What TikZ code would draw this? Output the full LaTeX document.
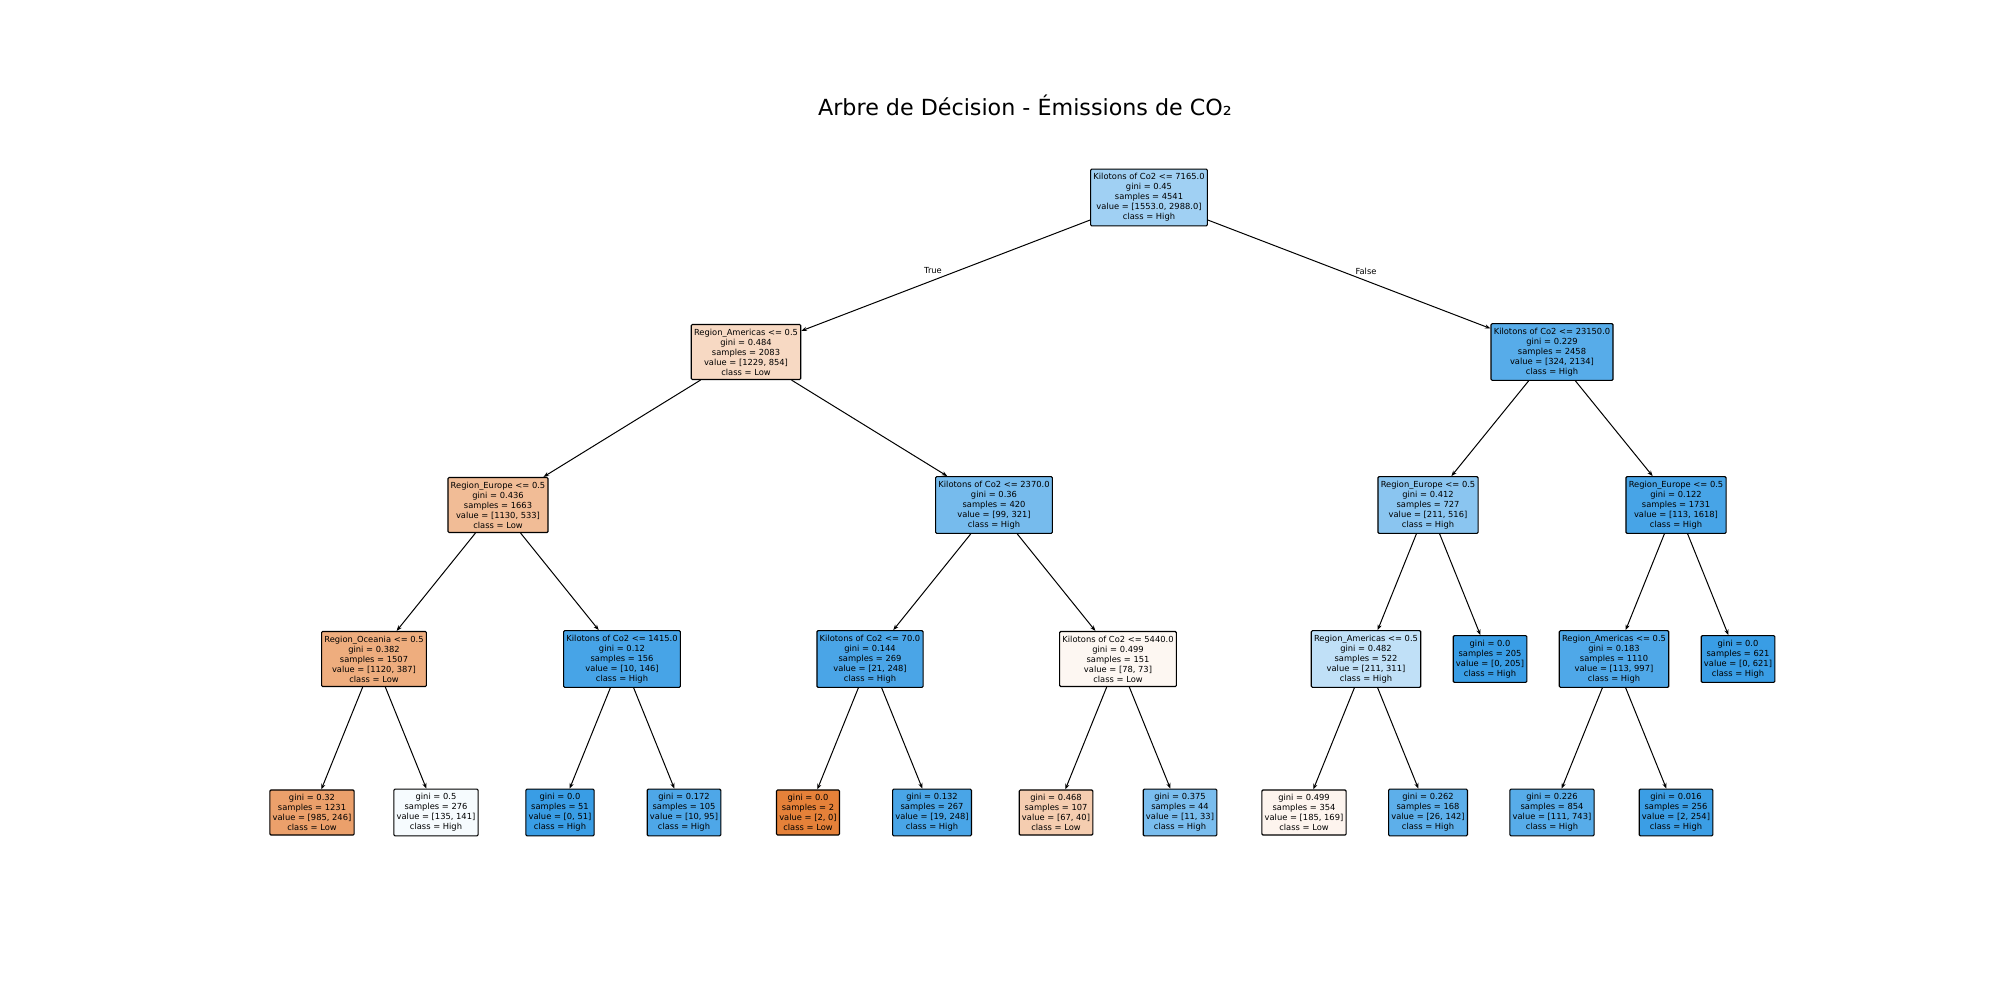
\documentclass[tikz,border=0pt]{standalone}
\usepackage{fontspec}
\setmainfont{DejaVu Sans}
\usetikzlibrary{arrows.meta}
\definecolor{lowc}{RGB}{229,129,57}
\definecolor{highc}{RGB}{57,157,229}
\begin{document}
\begin{tikzpicture}[x=0.72pt,y=-0.72pt,
  tnode/.style={draw=black, line width=0.8pt, rounded corners=0.8pt, align=center,
    inner xsep=2pt, inner ysep=3.1pt, font=\fontsize{6}{7.2}\selectfont},
  lo/.style={tnode, fill=lowc!#1!white},
  hi/.style={tnode, fill=highc!#1!white},
  edge/.style={-{Stealth[length=4pt,width=3pt]}, line width=0.72pt},
  elabel/.style={font=\fontsize{6}{7.2}\selectfont, inner sep=0pt}]
\useasboundingbox (0,0) rectangle (2000,1000);

\node[font=\fontsize{16}{19}\selectfont] (title) at (1025,105) {Arbre de Décision - Émissions de CO₂};

% depth 0
\node[hi=48] (n0) at (1149,197.5) {Kilotons of Co2 <= 7165.0\\gini = 0.45\\samples = 4541\\value = [1553.0, 2988.0]\\class = High};
% depth 1
\node[lo=30.5] (n1) at (746,352) {Region\_Americas <= 0.5\\gini = 0.484\\samples = 2083\\value = [1229, 854]\\class = Low};
\node[hi=85] (n2) at (1552,352) {Kilotons of Co2 <= 23150.0\\gini = 0.229\\samples = 2458\\value = [324, 2134]\\class = High};
% depth 2
\node[lo=53] (n3) at (498,505) {Region\_Europe <= 0.5\\gini = 0.436\\samples = 1663\\value = [1130, 533]\\class = Low};
\node[hi=69] (n4) at (994,505) {Kilotons of Co2 <= 2370.0\\gini = 0.36\\samples = 420\\value = [99, 321]\\class = High};
\node[hi=59] (n5) at (1428,505) {Region\_Europe <= 0.5\\gini = 0.412\\samples = 727\\value = [211, 516]\\class = High};
\node[hi=93] (n6) at (1676,505) {Region\_Europe <= 0.5\\gini = 0.122\\samples = 1731\\value = [113, 1618]\\class = High};
% depth 3
\node[lo=65] (n7) at (374,659) {Region\_Oceania <= 0.5\\gini = 0.382\\samples = 1507\\value = [1120, 387]\\class = Low};
\node[hi=93] (n8) at (622,659) {Kilotons of Co2 <= 1415.0\\gini = 0.12\\samples = 156\\value = [10, 146]\\class = High};
\node[hi=91.5] (n9) at (870,659) {Kilotons of Co2 <= 70.0\\gini = 0.144\\samples = 269\\value = [21, 248]\\class = High};
\node[lo=6.4] (n10) at (1118,659) {Kilotons of Co2 <= 5440.0\\gini = 0.499\\samples = 151\\value = [78, 73]\\class = Low};
\node[hi=32] (n11) at (1366,659) {Region\_Americas <= 0.5\\gini = 0.482\\samples = 522\\value = [211, 311]\\class = High};
\node[hi=100] (n12) at (1490,659) {gini = 0.0\\samples = 205\\value = [0, 205]\\class = High};
\node[hi=89] (n13) at (1614,659) {Region\_Americas <= 0.5\\gini = 0.183\\samples = 1110\\value = [113, 997]\\class = High};
\node[hi=100] (n14) at (1738,659) {gini = 0.0\\samples = 621\\value = [0, 621]\\class = High};
% depth 4
\node[lo=75] (n15) at (312,812.5) {gini = 0.32\\samples = 1231\\value = [985, 246]\\class = Low};
\node[hi=4.3] (n16) at (436,812.5) {gini = 0.5\\samples = 276\\value = [135, 141]\\class = High};
\node[hi=100] (n17) at (560,812.5) {gini = 0.0\\samples = 51\\value = [0, 51]\\class = High};
\node[hi=89.5] (n18) at (684,812.5) {gini = 0.172\\samples = 105\\value = [10, 95]\\class = High};
\node[lo=100] (n19) at (808,812.5) {gini = 0.0\\samples = 2\\value = [2, 0]\\class = Low};
\node[hi=92] (n20) at (932,812.5) {gini = 0.132\\samples = 267\\value = [19, 248]\\class = High};
\node[lo=40] (n21) at (1056,812.5) {gini = 0.468\\samples = 107\\value = [67, 40]\\class = Low};
\node[hi=67] (n22) at (1180,812.5) {gini = 0.375\\samples = 44\\value = [11, 33]\\class = High};
\node[lo=8.6] (n23) at (1304,812.5) {gini = 0.499\\samples = 354\\value = [185, 169]\\class = Low};
\node[hi=82] (n24) at (1428,812.5) {gini = 0.262\\samples = 168\\value = [26, 142]\\class = High};
\node[hi=85] (n25) at (1552,812.5) {gini = 0.226\\samples = 854\\value = [111, 743]\\class = High};
\node[hi=99] (n26) at (1676,812.5) {gini = 0.016\\samples = 256\\value = [2, 254]\\class = High};

% connectors
\foreach \p/\c in {n0/n1, n0/n2, n1/n3, n1/n4, n2/n5, n2/n6,
                   n3/n7, n3/n8, n4/n9, n4/n10, n5/n11, n5/n12, n6/n13, n6/n14,
                   n7/n15, n7/n16, n8/n17, n8/n18, n9/n19, n9/n20, n10/n21, n10/n22,
                   n11/n23, n11/n24, n13/n25, n13/n26}
  \draw[edge] (\p) -- (\c);

% branch labels of the root split
\node[elabel] (ltrue) at (933,271) {True};
\node[elabel] (lfalse) at (1366,271) {False};
\end{tikzpicture}
\end{document}
